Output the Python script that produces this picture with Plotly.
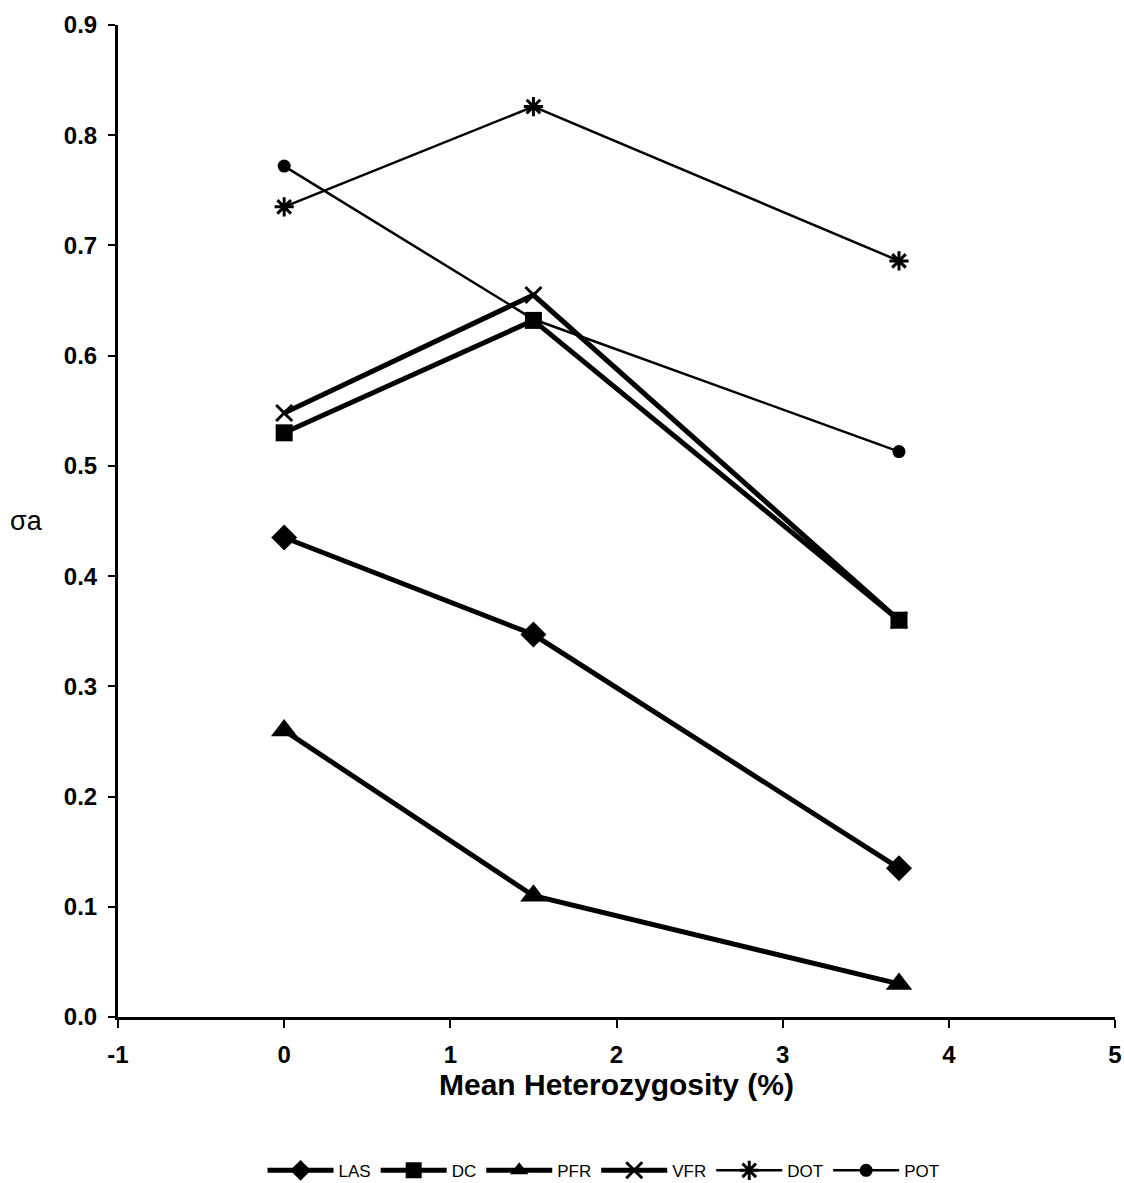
import plotly.graph_objects as go

x_vals = [0, 1.5, 3.7]
las = [0.435, 0.347, 0.135]
dc = [0.530, 0.632, 0.360]
pfr = [0.260, 0.110, 0.030]
vfr = [0.548, 0.655, 0.360]
dot = [0.735, 0.826, 0.686]
pot = [0.772, 0.633, 0.513]
x_ticks = [-1, 0, 1, 2, 3, 4, 5]
x_ticktext = ["-1", "0", "1", "2", "3", "4", "5"]

series = [
    ("LAS", las, "diamond", 20, 5),
    ("DC", dc, "square", 17, 5),
    ("PFR", pfr, "triangle-up", 23, 5),
    ("VFR", vfr, "x-thin-open", 16, 5),
    ("DOT", dot, "asterisk-open", 16, 2.5),
    ("POT", pot, "circle", 13, 2.5),
]

fig = go.Figure()
for name, vals, sym, size, lw in series:
    marker = dict(symbol=sym, size=size, color="black")
    if "open" in sym:
        marker["line"] = dict(color="black", width=3)
    fig.add_trace(go.Scatter(
        x=x_vals, y=vals, name=name, mode="lines+markers",
        line=dict(color="black", width=lw),
        marker=marker,
    ))

font_family = "Liberation Sans, Arial, sans-serif"
fig.update_layout(
    width=1124, height=1183,
    margin=dict(l=118, r=9, t=25, b=166, autoexpand=False),
    paper_bgcolor="white", plot_bgcolor="white",
    font=dict(family=font_family, color="black"),
    showlegend=True,
    legend=dict(orientation="h", x=0.487, xanchor="center", y=-0.155, yanchor="middle",
                font=dict(size=17, family=font_family), itemwidth=66, tracegroupgap=0),
    xaxis=dict(range=[-1, 5], tickvals=x_ticks, ticktext=x_ticktext, showgrid=False, zeroline=False,
               showline=True, linecolor="black", linewidth=3, ticks="outside", ticklen=8,
               tickwidth=2, tickcolor="black", ticklabelstandoff=6,
               tickfont=dict(size=24, family=font_family, weight="bold"),
               title=dict(text="<b>Mean Heterozygosity (%)</b>", font=dict(size=30), standoff=6)),
    yaxis=dict(range=[0, 0.9], tickvals=[0, 0.1, 0.2, 0.3, 0.4, 0.5, 0.6, 0.7, 0.8, 0.9],
               tickformat=".1f", showgrid=False, zeroline=False,
               showline=True, linecolor="black", linewidth=3, ticks="outside", ticklen=7,
               tickwidth=2, tickcolor="black", ticklabelstandoff=6,
               tickfont=dict(size=24, family=font_family, weight="bold"),
               title=None),
)
fig.add_annotation(text="σa", xref="paper", yref="paper", x=-0.092, y=0.5, showarrow=False,
                   font=dict(size=27, family=font_family), xanchor="center", yanchor="middle")
fig.write_html("out.html")
